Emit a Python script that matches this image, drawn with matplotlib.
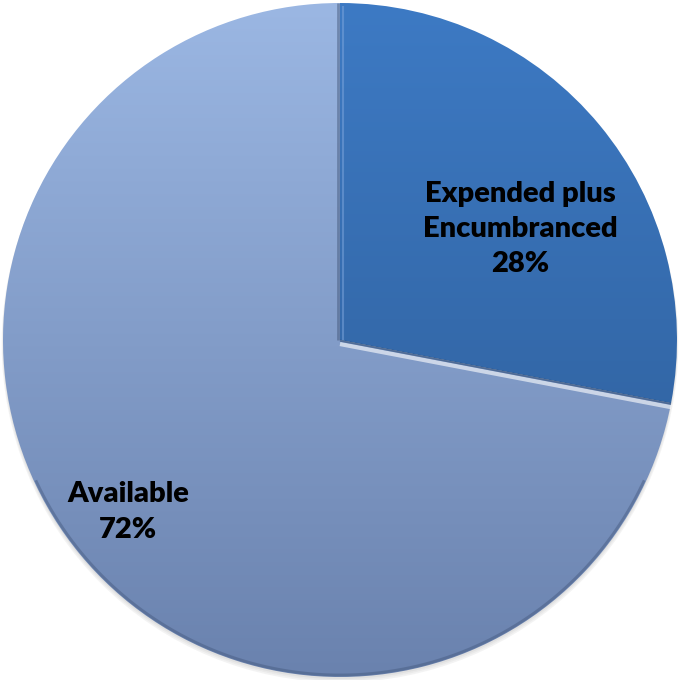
import numpy as np
import matplotlib
matplotlib.use("Agg")
import matplotlib.pyplot as plt
from matplotlib.colors import to_rgb

# budget split
labels = ["Expended plus\nEncumbranced", "Available"]
values = [28, 72]

# vertical gradients (top colour, bottom colour) per slice
grad_top = ["#3d7ac4", "#9bb7e3"]
grad_bottom = ["#2c5a93", "#6a82ae"]

R = 337.0  # radius in pixels
fig = plt.figure(figsize=(6.83, 6.8), dpi=100)
ax = fig.add_axes([0, 0, 1, 1])
ax.axis("off")

# faint drop shadow under the pie
for k, a in enumerate([0.05, 0.05, 0.06]):
    sh = plt.Circle((0.0, -0.006 - 0.003 * k), 1.0 + 0.002 * k, color="#404040",
                    alpha=a, lw=0, zorder=0)
    ax.add_patch(sh)

wedges, _ = ax.pie(values, startangle=90, counterclock=False, radius=1.0,
                   center=(0, 0), wedgeprops=dict(lw=0))
ax.set_xlim(-340 / R, 343 / R)
ax.set_ylim(-340 / R, 340 / R)
ax.set_aspect("auto")

t = np.linspace(0, 1, 400)[:, None]
for w, c0, c1 in zip(wedges, grad_top, grad_bottom):
    w.set_facecolor("none")
    c0, c1 = np.array(to_rgb(c0)), np.array(to_rgb(c1))
    img = c0[None, None, :] * (1 - t[:, :, None]) + c1[None, None, :] * t[:, :, None]
    img = np.repeat(img, 2, axis=1)
    im = ax.imshow(img, extent=(-1, 1, -1, 1), origin="upper", aspect="auto",
                   interpolation="bilinear", zorder=1)
    im.set_clip_path(w)

# bevel highlights along the slice borders
end = np.deg2rad(90 - 360 * values[0] / sum(values))
ex, ey = np.cos(end), np.sin(end)
ax.plot([0.0, ex], [-0.012, ey - 0.012], color="white", lw=3, alpha=0.6,
        solid_capstyle="butt", zorder=3)
ax.plot([0.0, ex], [-0.002, ey - 0.002], color="#1f3d66", lw=1.5, alpha=0.5,
        solid_capstyle="butt", zorder=3)
ax.plot([-0.006, -0.006], [0.0, 1.0], color="#3c4f70", lw=2, alpha=0.45,
        solid_capstyle="butt", zorder=3)
ax.plot([0.008, 0.008], [0.0, 0.99], color="#7fa6dc", lw=1.5, alpha=0.5,
        solid_capstyle="butt", zorder=3)

# darker rim at the bottom of the disc
th = np.linspace(np.deg2rad(205), np.deg2rad(335), 200)
ax.plot(0.994 * np.cos(th), 0.994 * np.sin(th), color="#44587d", lw=2,
        alpha=0.45, zorder=3)

font = dict(family=["Lato", "DejaVu Sans"], fontweight="heavy", fontsize=21,
            color="black", ha="center", va="center", zorder=4)
ax.text(180 / R, -(229 - 340) / R, f"{labels[0]}\n{values[0]}%",
        linespacing=1.45, **font)
ax.text(-212 / R, -(512 - 340) / R, f"{labels[1]}\n{values[1]}%",
        linespacing=1.45, **font)

fig.savefig("out.png", dpi=100)
